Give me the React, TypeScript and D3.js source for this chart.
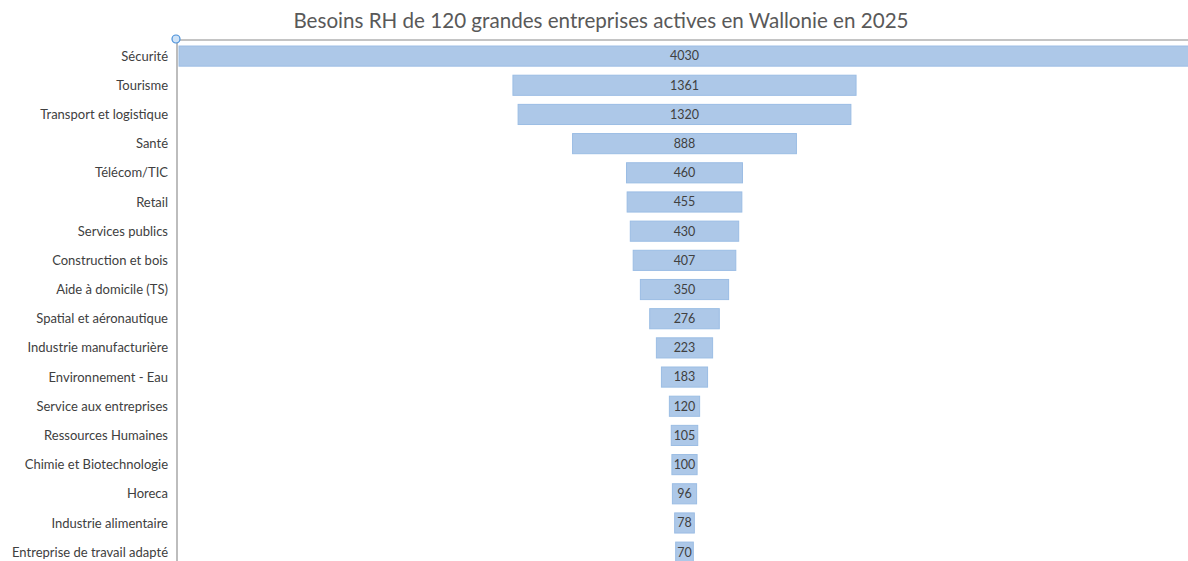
import React from "react";
import * as d3 from "d3";

const title = "Besoins RH de 120 grandes entreprises actives en Wallonie en 2025";
const categories = [
  "Sécurité",
  "Tourisme",
  "Transport et logistique",
  "Santé",
  "Télécom/TIC",
  "Retail",
  "Services publics",
  "Construction et bois",
  "Aide à domicile (TS)",
  "Spatial et aéronautique",
  "Industrie manufacturière",
  "Environnement - Eau",
  "Service aux entreprises",
  "Ressources Humaines",
  "Chimie et Biotechnologie",
  "Horeca",
  "Industrie alimentaire",
  "Entreprise de travail adapté",
];
const values = [4030, 1361, 1320, 888, 460, 455, 430, 407, 350, 276, 223, 183, 120, 105, 100, 96, 78, 70];

export default function App() {
  const W = 1188;
  const H = 561;
  const maxV = d3.max(values) as number;
  const x = d3.scaleLinear().domain([-maxV / 2, maxV / 2]).range([176.5, 1192.5]);
  const y = d3
    .scaleBand<string>()
    .domain(categories)
    .range([41.5, 41.5 + 29.18 * categories.length])
    .paddingInner(0.31)
    .paddingOuter(0.155);
  const font = "Lato, 'Open Sans', sans-serif";
  return (
    <div style={{ position: "absolute", left: 0, top: 0, width: W, height: H, overflow: "hidden", background: "#fff" }}>
      <svg width={W} height={H} style={{ display: "block" }}>
        <text x={601} y={28} textAnchor="middle" fontFamily={font} fontSize={20.6} fill="#595959">
          {title}
        </text>
        {categories.map((c, i) => {
          const v = values[i];
          const x0 = Math.max(x(-v / 2), 179);
          const x1 = x(v / 2);
          const yy = y(c) as number;
          const cy = yy + y.bandwidth() / 2;
          return (
            <g key={c}>
              <rect x={x0} y={yy} width={x1 - x0} height={y.bandwidth()} fill="#adc8e8" stroke="#9bbde4" strokeWidth={1} />
              <text x={x(0)} y={cy} dy="0.35em" textAnchor="middle" fontFamily={font} fontSize={12.5} fill="#404040">
                {v}
              </text>
              <text x={168} y={cy} dy="0.35em" textAnchor="end" fontFamily={font} fontSize={13} fill="#404040">
                {c}
              </text>
            </g>
          );
        })}
        <line x1={176} y1={40} x2={W} y2={40} stroke="#c4c4c4" strokeWidth={2} />
        <line x1={177} y1={40} x2={177} y2={H} stroke="#bdbdbd" strokeWidth={2} />
        <circle cx={176} cy={39} r={4} fill="#cfe3f7" stroke="#4a90d9" strokeWidth={1.2} />
      </svg>
    </div>
  );
}
